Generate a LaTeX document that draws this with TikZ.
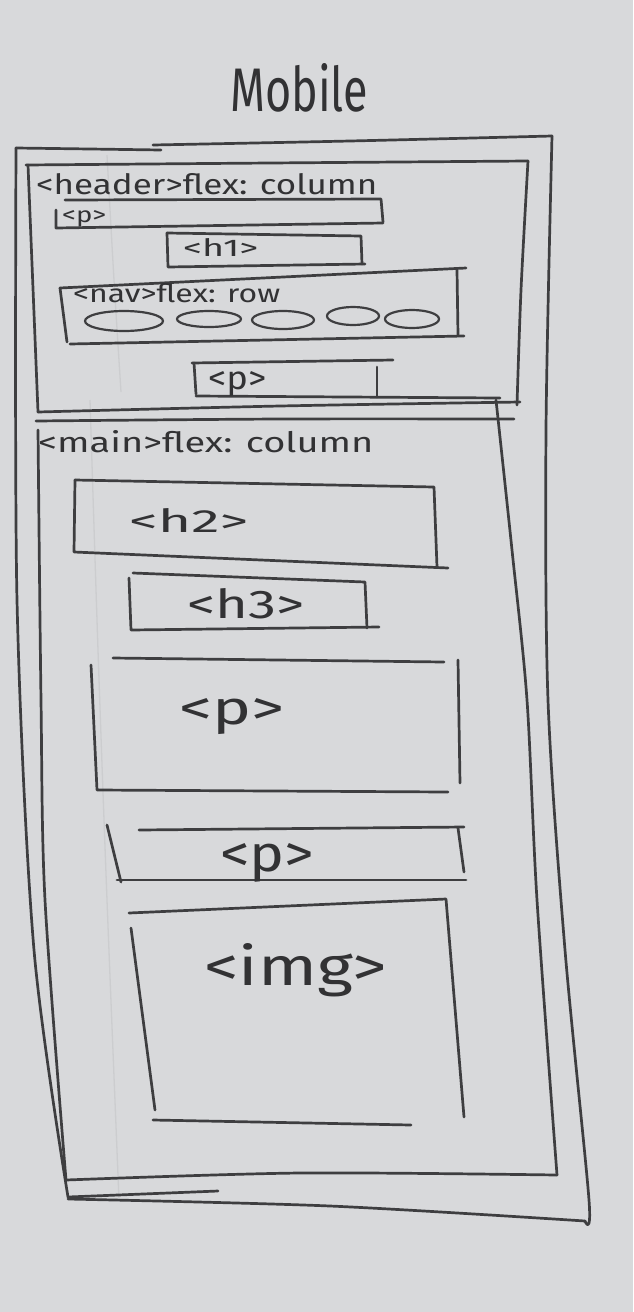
\documentclass[tikz,border=0pt]{standalone}
\usepackage{fontspec}
\setmainfont{Fira Sans}
\usepackage{graphicx}
\definecolor{paper}{RGB}{216,217,219}
\definecolor{graphite}{RGB}{62,62,64}
\definecolor{ink}{RGB}{50,50,52}
\definecolor{faint}{RGB}{204,205,207}
% scale a word to a given width and height (in pt)
\newcommand\fitword[3]{\resizebox{#1pt}{#2pt}{#3}}
\begin{document}
\begin{tikzpicture}[x=1pt,y=-1pt,
  pencil/.style={draw=graphite,line width=2.7pt,line cap=round,line join=round},
  softpencil/.style={draw=graphite,line width=2.2pt,line cap=round},
  guide/.style={draw=faint,line width=1.3pt},
  word/.style={anchor=base west,inner sep=0pt,text=ink}]

% paper
\fill[paper] (0,0) rectangle (633,1312);
\useasboundingbox (0,0) rectangle (633,1312);

% faint ruler lines on the paper
\draw[guide] plot[smooth] coordinates {(107,155) (114,280) (121,392)};
\draw[guide] plot[smooth] coordinates {(90,400) (98,650) (107,900) (119,1200)};

% title
\node[word] (title) at (230,111) {\fitword{138}{48}{Mobile}};

% ---- outer page frame ----
\draw[pencil] plot[smooth] coordinates {(16,148) (90,149) (161,150)};
\draw[pencil] plot[smooth] coordinates {(153,145) (350,141) (552,136)};
\draw[pencil] plot[smooth] coordinates {(552,136) (546,430) (548,700) (565,950) (589,1200) (585,1221)};
\draw[pencil] plot[smooth] coordinates {(16,148) (17,600) (34,950) (68,1197)};
\draw[pencil] (68,1197) -- (218,1191);
\draw[pencil] plot[smooth] coordinates {(68,1199) (330,1206) (585,1221)};

% ---- header ----
\draw[pencil] plot[smooth] coordinates {(26,165) (270,163) (528,161)};
\draw[pencil] (28,165) -- (38,412);
\draw[pencil] plot[smooth] coordinates {(528,161) (521,290) (517,405)};
\draw[pencil] plot[smooth] coordinates {(38,412) (280,406) (520,402)};
\node[word] (headerlabel) at (36,194) {\fitword{341}{21}{<header>flex: column}};

% first paragraph in header
\draw[pencil] (65,200) -- (381,199) -- (383,222);
\draw[pencil] (56,210) -- (56,228) -- (383,223);
\node[word] (hp1) at (62,222) {\fitword{44}{12}{<p>}};

% h1
\draw[pencil] (167,233) -- (361,236) -- (362,264);
\draw[pencil] (167,233) -- (168,267) -- (365,264);
\node[word] (h1) at (183,256) {\fitword{75}{18}{<h1>}};

% nav
\draw[pencil] (60,288) -- (466,268);
\draw[pencil] (60,288) -- (67,342);
\draw[pencil] (457,270) -- (458,335);
\draw[pencil] (70,344) -- (464,336);
\node[word] (navlabel) at (73,302) {\fitword{207}{19}{<nav>flex: row}};
\draw[softpencil] (124,321) ellipse [x radius=39pt, y radius=10pt];
\draw[softpencil] (209,319) ellipse [x radius=32pt, y radius=8pt];
\draw[softpencil] (283,320) ellipse [x radius=31pt, y radius=9pt];
\draw[softpencil] (353,316) ellipse [x radius=26pt, y radius=9pt];
\draw[softpencil] (412,319) ellipse [x radius=27pt, y radius=9pt];

% last paragraph in header
\draw[pencil] (192,363) -- (393,360);
\draw[pencil] (194,363) -- (196,394);
\draw[pencil] (377,367) -- (377,397);
\draw[pencil] (196,396) -- (500,398);
\node[word] (hp2) at (208,389) {\fitword{58}{18}{<p>}};

% ---- main ----
\draw[pencil] plot[smooth] coordinates {(36,421) (280,419) (514,419)};
\draw[pencil] plot[smooth] coordinates {(38,430) (41,700) (45,900) (66,1180)};
\draw[pencil] plot[smooth] coordinates {(496,400) (512,550) (527,700) (537,900) (557,1175)};
\draw[pencil] plot[smooth] coordinates {(66,1180) (300,1173) (557,1175)};
\node[word] (mainlabel) at (38,452) {\fitword{335}{22}{<main>flex: column}};

% h2
\draw[pencil] (75,480) -- (434,487) -- (437,567);
\draw[pencil] (75,480) -- (74,552) -- (448,568);
\node[word] (h2) at (129,532) {\fitword{119}{24}{<h2>}};

% h3
\draw[pencil] (133,573) -- (365,582) -- (367,628);
\draw[pencil] (129,578) -- (131,630) -- (379,627);
\node[word] (h3) at (187,618) {\fitword{117}{30}{<h3>}};

% big paragraph
\draw[pencil] (113,658) -- (444,662);
\draw[pencil] (91,665) -- (97,790) -- (448,792);
\draw[pencil] (458,660) -- (460,783);
\node[word] (mp1) at (179,724) {\fitword{105}{26}{<p>}};

% small paragraph
\draw[pencil] (139,830) -- (464,827);
\draw[pencil] (107,825) -- (121,882);
\draw[pencil] (117,880) -- (466,880);
\draw[pencil] (458,828) -- (464,872);
\node[word] (mp2) at (220,871) {\fitword{94}{28}{<p>}};

% image
\draw[pencil] (129,913) -- (446,899) -- (464,1117);
\draw[pencil] (131,928) -- (155,1110);
\draw[pencil] (153,1120) -- (411,1125);
\node[word] (img) at (204,985) {\fitword{183}{42}{<img>}};
\end{tikzpicture}
\end{document}
